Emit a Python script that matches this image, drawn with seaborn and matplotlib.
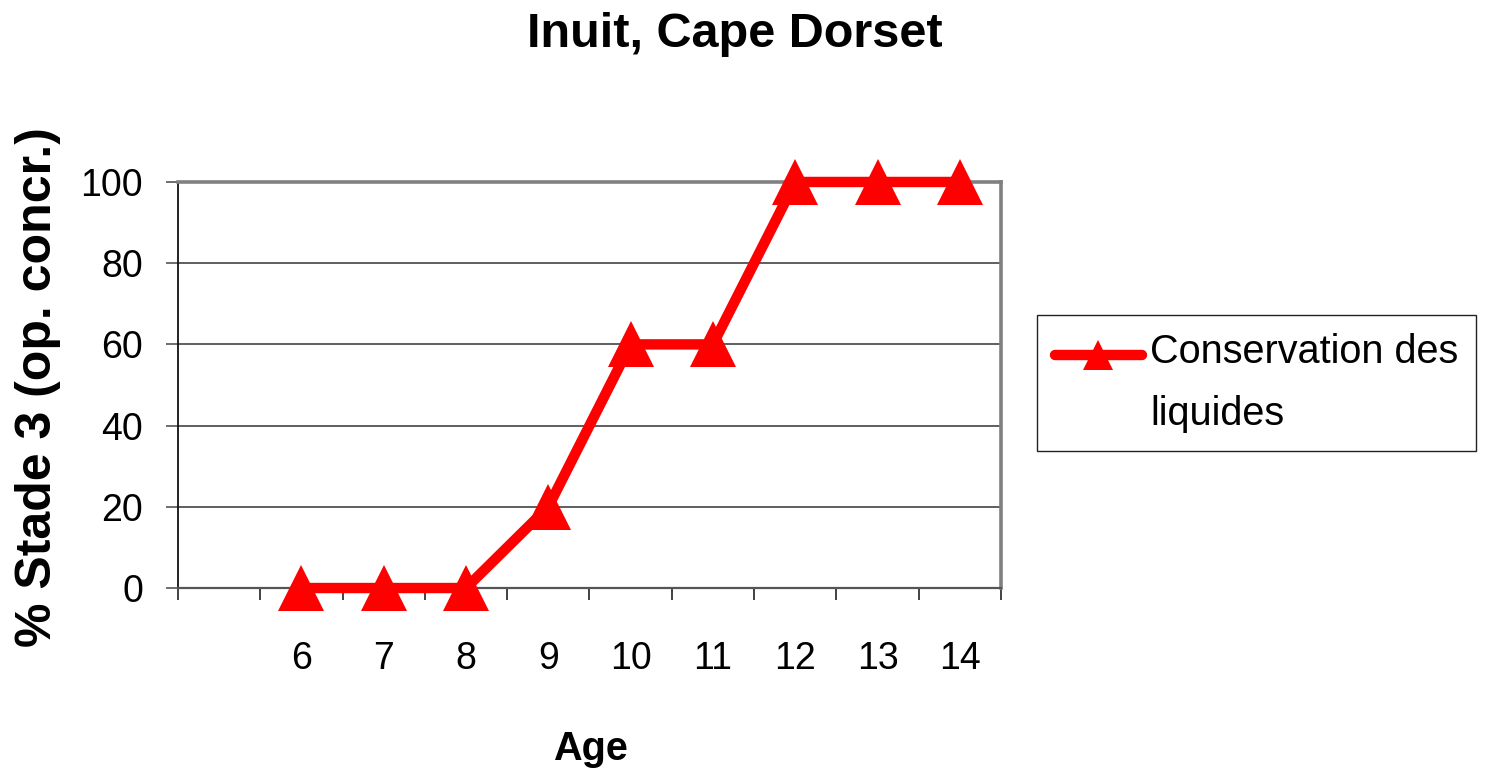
import matplotlib
matplotlib.use("Agg")
import matplotlib.pyplot as plt
from matplotlib.ticker import FixedLocator
from matplotlib.legend_handler import HandlerLine2D
import seaborn as sns
import pandas as pd
import numpy as np

# data
ages = [6, 7, 8, 9, 10, 11, 12, 13, 14]
pct_stade3 = [0, 0, 0, 20, 60, 60, 100, 100, 100]
series_name = "Conservation des\nliquides"

title = "Inuit, Cape Dorset"
x_label = "Age"
y_label = "% Stade 3 (op. concr.)"
y_ticks = [0, 20, 40, 60, 80, 100]

sns.set_style("white")
plt.rcParams['font.family'] = ['Liberation Sans', 'DejaVu Sans']
plt.rcParams['text.color'] = 'black'
plt.rcParams['axes.labelcolor'] = 'black'
plt.rcParams['xtick.color'] = 'black'
plt.rcParams['ytick.color'] = 'black'


class FirstLineHandler(HandlerLine2D):
    # Excel puts the legend key next to the first line of a wrapped label
    def __init__(self, shift, **kw):
        super().__init__(**kw)
        self.shift = shift

    def create_artists(self, legend, orig_handle, xdescent, ydescent,
                       width, height, fontsize, trans):
        arts = super().create_artists(legend, orig_handle, xdescent, ydescent,
                                      width, height, fontsize, trans)
        for a in arts:
            a.set_ydata(np.asarray(a.get_ydata(), dtype=float) + self.shift)
        return arts


df = pd.DataFrame({"age": ages, "pct": pct_stade3})

fig = plt.figure(figsize=(14.88, 7.73), dpi=100)
ax = fig.add_axes([0.1196, 0.2393, 0.5531, 0.5253])

sns.lineplot(data=df, x="age", y="pct", ax=ax, color="#FF0000",
             linewidth=7.5, marker="^", markersize=33, markeredgewidth=0,
             solid_capstyle="round", clip_on=False, zorder=5, legend=False)

# category-style x axis: one empty slot before age 6
ax.set_xlim(ages[0] - 1.5, ages[-1] + 0.5)
ax.set_ylim(0, 100)
ax.set_xticks(ages)
ax.set_xticklabels([str(a) for a in ages])
ax.xaxis.set_minor_locator(FixedLocator([a + 0.5 for a in range(ages[0] - 2, ages[-1] + 1)]))
ax.tick_params(axis="x", which="major", length=0, pad=38, labelsize=27)
ax.tick_params(axis="x", which="minor", length=8.6, width=1.2, color="#222222", direction="out", bottom=True)
ax.set_yticks(y_ticks)
ax.tick_params(axis="y", which="major", length=9, width=1.2, color="#555555", direction="out", pad=16, labelsize=27, left=True)

ax.yaxis.grid(True, color="#333333", linewidth=1.1)
ax.xaxis.grid(False)
ax.set_axisbelow(True)

ax.spines["left"].set_color("#111111")
ax.spines["left"].set_linewidth(1.3)
ax.spines["bottom"].set_color("#555555")
ax.spines["bottom"].set_linewidth(1.6)
for side in ["top", "right"]:
    ax.spines[side].set_color("#808080")
    ax.spines[side].set_linewidth(2.6)

ax.set_xlabel(x_label, fontsize=28.5, fontweight="bold", labelpad=0)
ax.xaxis.set_label_coords(0.5006, -0.35)
ax.set_ylabel(y_label, fontsize=36, fontweight="bold")
ax.yaxis.set_label_coords(-0.142, 0.495)

fig.text(0.494, 0.955, title, fontsize=35, fontweight="bold", ha="center", va="center")

handles = ax.get_lines()[:1]
leg = ax.legend(handles, [series_name], loc="upper left",
                bbox_to_anchor=(0.697, 0.5925), bbox_transform=fig.transFigure,
                borderaxespad=0, fontsize=28.5, frameon=True, fancybox=False,
                edgecolor="#222222", framealpha=1, handlelength=2.2,
                handletextpad=0.2, borderpad=0.45, markerscale=0.66,
                handler_map={handles[0]: FirstLineHandler(shift=21)})
leg.get_frame().set_linewidth(1.0)
for t in leg.get_texts():
    t.set_linespacing(1.8)

fig.savefig("out.png", dpi=100, facecolor="white")
